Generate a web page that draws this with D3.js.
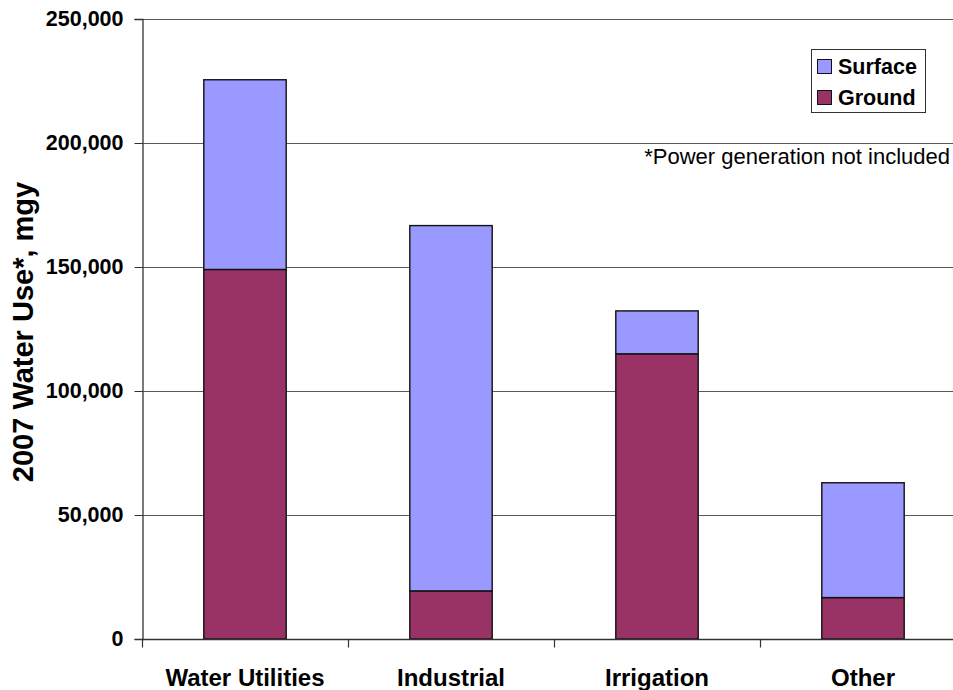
<!DOCTYPE html>
<html>
<head>
<meta charset="utf-8">
<script src="https://cdn.jsdelivr.net/npm/d3@7"></script>
<style>
  html, body { margin: 0; padding: 0; background: #fff; overflow: hidden; }
  svg { display: block; font-family: "Liberation Sans", Arial, sans-serif; }
</style>
</head>
<body>
<svg id="chart" width="953" height="690"></svg>
<script>
// 2007 water use by sector, million gallons per year
const categories = ["Water Utilities", "Industrial", "Irrigation", "Other"];
const groundValues = [149000, 19400, 115000, 16700];
const surfaceValues = [76500, 147300, 17300, 46300];
const seriesNames = ["Ground", "Surface"];
const legendOrder = ["Surface", "Ground"];
const yTicks = [0, 50000, 100000, 150000, 200000, 250000];
const yLabel = "2007 Water Use*, mgy";
const footnote = "*Power generation not included";

const colors = { Ground: "#993366", Surface: "#9999FF" };

const svg = d3.select("#chart");
const plot = { left: 142, right: 966, top: 19, bottom: 639 };

const rows = categories.map((c, i) => ({ category: c, Ground: groundValues[i], Surface: surfaceValues[i] }));
const stacked = d3.stack().keys(seriesNames)(rows);

const x = d3.scaleBand()
  .domain(categories)
  .range([plot.left, plot.right])
  .paddingInner(0.6)
  .paddingOuter(0.3);

const y = d3.scaleLinear()
  .domain([0, 250000])
  .range([plot.bottom, plot.top]);

// horizontal gridlines
svg.append("g")
  .selectAll("line")
  .data(yTicks.filter(d => d > 0))
  .join("line")
  .attr("x1", plot.left).attr("x2", plot.right)
  .attr("y1", d => y(d) + 0.5).attr("y2", d => y(d) + 0.5)
  .attr("stroke", "#5a5a5a").attr("stroke-width", 1);

// stacked bars
svg.append("g")
  .selectAll("g")
  .data(stacked)
  .join("g")
  .attr("fill", d => colors[d.key])
  .selectAll("rect")
  .data(d => d)
  .join("rect")
  .attr("x", d => x(d.data.category))
  .attr("width", x.bandwidth())
  .attr("y", d => y(d[1]))
  .attr("height", d => y(d[0]) - y(d[1]))
  .attr("stroke", "#111")
  .attr("stroke-width", 1.4);

// y axis
const yAxis = d3.axisLeft(y)
  .tickValues(yTicks)
  .tickSize(8)
  .tickPadding(11)
  .tickFormat(d3.format(","));
const yg = svg.append("g")
  .attr("transform", `translate(${plot.left + 0.5},0)`)
  .call(yAxis);
yg.select(".domain").attr("stroke", "#333").attr("stroke-width", 1.3);
yg.selectAll(".tick line").attr("stroke", "#333");
yg.selectAll(".tick text")
  .attr("fill", "#000")
  .style("font-size", "21.5px")
  .style("font-weight", "bold");

// x axis: ticks between categories, labels centered under bars
const xg = svg.append("g")
  .attr("transform", `translate(0,${plot.bottom + 0.5})`);
xg.append("line")
  .attr("x1", plot.left).attr("x2", plot.right)
  .attr("stroke", "#333").attr("stroke-width", 1.3);
const step = x.step();
const boundaries = d3.range(categories.length + 1).map(i => plot.left + i * step);
xg.selectAll("line.sep")
  .data(boundaries)
  .join("line")
  .attr("class", "sep")
  .attr("x1", d => d + 0.5).attr("x2", d => d + 0.5)
  .attr("y1", 0).attr("y2", 8)
  .attr("stroke", "#333").attr("stroke-width", 1.2);
xg.selectAll("text")
  .data(categories)
  .join("text")
  .attr("x", d => x(d) + x.bandwidth() / 2)
  .attr("y", 46)
  .attr("text-anchor", "middle")
  .style("font-size", "24px")
  .style("font-weight", "bold")
  .text(d => d);

// y axis title
svg.append("text")
  .attr("transform", `translate(33,${(plot.top + plot.bottom) / 2 + 3}) rotate(-90)`)
  .attr("text-anchor", "middle")
  .style("font-size", "29px")
  .style("font-weight", "bold")
  .text(yLabel);

// footnote
svg.append("text")
  .attr("x", 950)
  .attr("y", 164)
  .attr("text-anchor", "end")
  .style("font-size", "22px")
  .text(footnote);

// legend
const legend = svg.append("g").attr("transform", "translate(811,49)");
legend.append("rect")
  .attr("x", 0.5).attr("y", 0.5)
  .attr("width", 114).attr("height", 63)
  .attr("fill", "#fff")
  .attr("stroke", "#333").attr("stroke-width", 1);
const items = legend.selectAll("g.item")
  .data(legendOrder)
  .join("g")
  .attr("class", "item")
  .attr("transform", (d, i) => `translate(6,${10 + i * 31})`);
items.append("rect")
  .attr("x", 0.5).attr("y", 0.5)
  .attr("width", 14).attr("height", 14)
  .attr("fill", d => colors[d])
  .attr("stroke", "#111").attr("stroke-width", 1);
items.append("text")
  .attr("x", 21)
  .attr("y", 14.5)
  .style("font-size", "21.5px")
  .style("font-weight", "bold")
  .text(d => d);
</script>
</body>
</html>
